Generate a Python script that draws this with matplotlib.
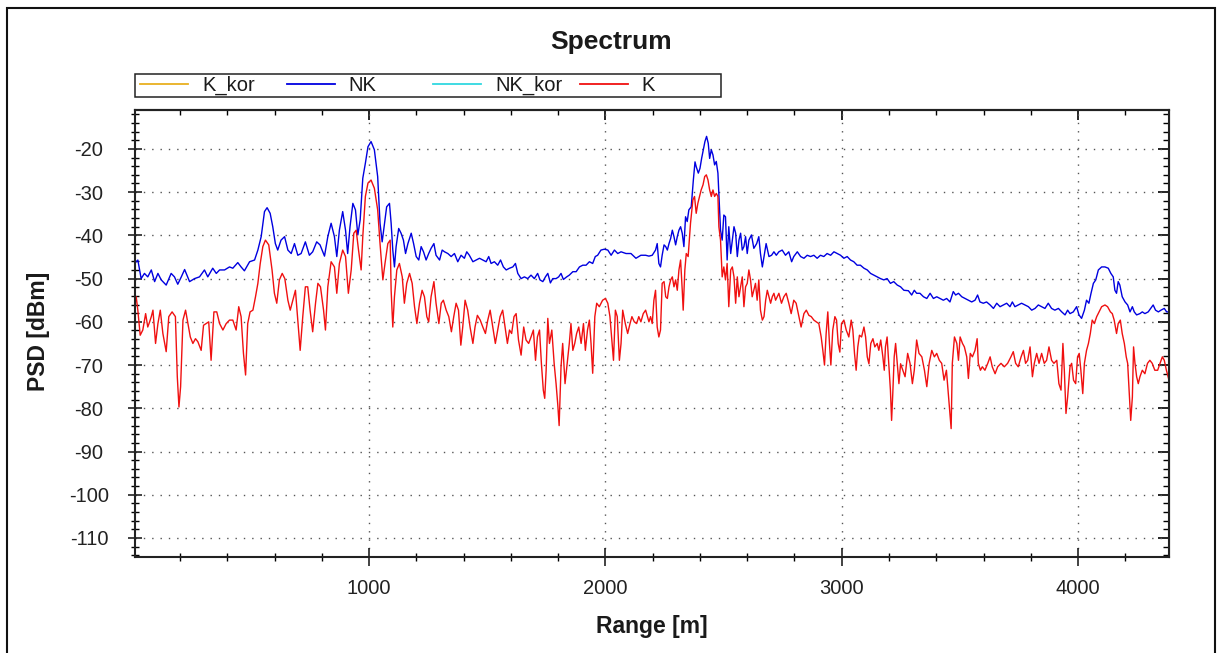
import matplotlib
matplotlib.use('Agg')
import matplotlib.pyplot as plt
from matplotlib.patches import Rectangle
from matplotlib.ticker import MultipleLocator

plt.rcParams['font.family'] = ['Liberation Sans', 'DejaVu Sans']
plt.rcParams['axes.unicode_minus'] = False

# 読み取り値 (Range [m], PSD [dBm])
nk_range = [
    7, 21, 35, 49, 63, 78, 92, 106, 120, 141,
    162, 176, 190, 205, 219, 240, 261, 282, 303, 317,
    338, 353, 367, 388, 409, 423, 444, 458, 472, 494,
    515, 529, 543, 557, 568, 581, 592, 603, 613, 627,
    642, 656, 670, 684, 698, 712, 730, 747, 761, 778,
    792, 811, 825, 839, 853, 863, 874, 888, 900, 909,
    919, 931, 942, 952, 962, 973, 984, 995, 1008, 1022,
    1036, 1046, 1055, 1065, 1074, 1086,
    1093, 1100, 1107, 1114, 1125, 1135, 1145, 1154, 1164, 1178,
    1188, 1199, 1210, 1220, 1230, 1241, 1252, 1262, 1274, 1283,
    1298, 1309, 1319, 1333, 1347, 1361, 1375, 1389, 1403, 1413,
    1424, 1439, 1453, 1467, 1481, 1495, 1506, 1516, 1530, 1544,
    1556, 1568, 1580, 1594, 1608, 1619, 1629, 1643, 1657, 1671,
    1685, 1699, 1713, 1723, 1735, 1746, 1756, 1767, 1777, 1791,
    1802, 1812, 1822, 1836, 1847, 1862, 1876, 1890, 1904, 1918,
    1932, 1946, 1957, 1967, 1981, 1995, 2010, 2024, 2038, 2052,
    2066, 2087, 2108, 2129, 2150,
    2170, 2184, 2198, 2212, 2219, 2226, 2233, 2240, 2248, 2255,
    2262, 2269, 2276, 2283, 2290, 2297, 2304, 2311, 2318, 2325,
    2332, 2339, 2346, 2353, 2363, 2372, 2379, 2384, 2393, 2400,
    2407, 2414, 2421, 2428, 2435, 2441, 2448, 2455, 2462, 2469,
    2476, 2480, 2487, 2494, 2501, 2508, 2515, 2522, 2530, 2537,
    2544, 2551, 2558, 2565, 2572, 2579, 2586, 2593, 2600, 2607,
    2618, 2628, 2640, 2649, 2656, 2664, 2671, 2680, 2692, 2703,
    2713, 2723, 2734, 2748, 2762, 2776, 2788, 2797, 2812, 2826,
    2840, 2854, 2868, 2882, 2896, 2910, 2924, 2938, 2953, 2967,
    2981, 2995, 3009, 3023, 3037, 3051, 3065, 3079, 3094, 3108,
    3122, 3136, 3150, 3164, 3178, 3192, 3206, 3220, 3235, 3249,
    3263,
    3282, 3296, 3307, 3317, 3331, 3346, 3360, 3374, 3388, 3402,
    3416, 3430, 3444, 3458, 3472, 3482, 3494, 3508, 3522, 3536,
    3550, 3564, 3575, 3585, 3599, 3613, 3628, 3642, 3656, 3670,
    3684, 3698, 3712, 3722, 3733, 3747, 3761, 3776, 3790, 3804,
    3818, 3832, 3846, 3860, 3874, 3888, 3902, 3917, 3931, 3945,
    3956, 3966, 3980, 3994, 4004, 4015, 4027, 4036, 4046, 4055,
    4065, 4075, 4086, 4100, 4114, 4128, 4139, 4149, 4156, 4163,
    4170, 4177, 4187, 4199, 4210, 4220, 4230, 4238, 4248, 4262,
    4272, 4283, 4297, 4318, 4328, 4340, 4351, 4365, 4375, 4385,
]
nk_psd = [
    -46.5, -45.7, -50.0, -48.8, -49.6, -48.0, -50.7, -48.8, -50.3, -51.5,
    -48.8, -49.6, -51.3, -49.6, -47.9, -50.7, -50.0, -49.6, -48.0, -49.6,
    -47.6, -48.8, -48.0, -48.0, -47.3, -47.6, -46.3, -47.3, -48.2, -46.1,
    -45.7, -43.4, -40.3, -34.5, -33.6, -34.9, -38.0, -41.9, -43.4, -41.1,
    -40.3, -43.4, -44.2, -41.9, -44.6, -44.2, -41.5, -44.6, -43.8, -41.5,
    -42.2, -44.8, -40.3, -37.2, -40.3, -44.9, -38.8, -34.5, -38.8, -44.2,
    -38.0, -32.6, -34.1, -39.9, -36.4, -26.8, -23.3, -19.5, -18.3, -20.2,
    -26.4, -37.2, -41.5, -37.2, -33.4, -32.6,
    -37.2, -43.4, -47.3, -42.6, -38.4, -39.5, -41.1, -44.2, -41.9, -39.5,
    -41.9, -44.9, -45.7, -42.6, -43.8, -45.7, -44.2, -43.0, -41.9, -44.6,
    -45.7, -43.4, -43.8, -44.2, -44.9, -44.2, -46.1, -44.6, -45.3, -43.8,
    -44.6, -46.1, -45.7, -45.3, -45.7, -46.1, -44.9, -46.5, -46.1, -46.9,
    -45.7, -47.3, -48.0, -47.6, -47.3, -46.5, -48.8, -50.0, -49.6, -50.0,
    -49.2, -50.0, -48.8, -50.3, -50.7, -49.6, -48.8, -51.0, -50.0, -50.0,
    -49.6, -48.8, -50.2, -49.6, -49.2, -48.4, -48.4, -47.3, -46.9, -46.9,
    -46.1, -46.5, -44.9, -44.6, -43.4, -43.2, -43.4, -44.6, -43.4, -44.2,
    -43.8, -44.2, -44.2, -45.3, -44.6,
    -44.6, -44.8, -44.6, -43.4, -41.9, -46.5, -47.3, -44.6, -42.2, -42.6,
    -43.4, -41.9, -40.7, -38.8, -40.3, -42.2, -40.3, -38.8, -38.0, -39.5,
    -42.6, -35.7, -36.8, -34.1, -33.4, -27.2, -23.0, -24.1, -25.6, -24.5,
    -22.2, -20.2, -18.3, -17.1, -18.7, -22.2, -20.2, -21.4, -23.7, -22.9,
    -25.6, -30.3, -38.8, -41.1, -35.3, -35.7, -45.7, -38.0, -44.2, -41.1,
    -38.0, -39.5, -44.9, -41.1, -39.5, -43.4, -42.6, -40.3, -44.2, -41.1,
    -39.9, -43.0, -41.9, -40.3, -44.2, -47.3, -44.9, -41.9, -44.9, -44.6,
    -43.8, -44.6, -43.8, -43.4, -44.6, -43.8, -46.1, -44.9, -43.8, -44.9,
    -45.3, -44.6, -44.9, -44.6, -45.3, -44.6, -44.9, -44.2, -44.6, -43.8,
    -44.2, -44.6, -45.3, -44.9, -45.7, -46.1, -46.9, -46.9, -47.6, -48.0,
    -48.8, -49.2, -49.6, -50.0, -50.3, -50.0, -51.1, -50.7, -51.5, -51.9,
    -52.7,
    -52.8, -53.8, -52.7, -53.4, -53.4, -54.2, -54.6, -53.4, -54.6, -54.2,
    -54.6, -55.0, -54.6, -55.4, -53.0, -53.8, -53.4, -54.2, -54.6, -55.0,
    -55.4, -55.0, -53.8, -55.4, -55.7, -55.4, -56.1, -56.9, -55.7, -56.5,
    -56.1, -55.7, -56.5, -55.4, -56.5, -56.1, -55.7, -56.1, -56.5, -57.3,
    -56.9, -56.1, -56.5, -56.9, -55.7, -56.9, -57.3, -56.9, -57.7, -58.4,
    -57.3, -58.1, -57.7, -56.5, -58.4, -59.2, -57.3, -55.0, -55.7, -53.4,
    -51.1, -50.3, -48.0, -47.3, -47.3, -47.6, -48.8, -49.6, -52.7, -53.4,
    -50.7, -51.5, -54.2, -55.4, -56.1, -57.7, -56.5, -57.7, -58.4, -58.1,
    -57.7, -58.1, -57.7, -56.1, -57.3, -57.7, -57.3, -56.9, -57.7, -57.7,
]

k_range = [
    4, 14, 21, 31, 42, 54, 63, 71, 78, 85,
    96, 106, 116, 127, 141, 152, 166, 180, 188, 195,
    202, 212, 223, 233, 243, 254, 265, 275, 289, 299,
    310, 321, 331, 343, 355, 367, 381, 395, 409, 423,
    437, 448, 458, 468, 477, 486, 496, 508, 519, 529,
    539, 550, 561, 575, 589, 599, 609, 620, 632, 643,
    656, 666, 677, 688, 698, 708, 719, 730, 740, 750,
    761, 773, 783, 794, 807, 815, 825, 839, 853, 863,
    874, 888, 900, 912, 924, 935, 945, 955, 966, 973,
    984, 995, 1008, 1022, 1036, 1046, 1058, 1067, 1079, 1089,
    1093, 1100, 1107, 1117, 1128, 1140, 1149, 1159, 1171, 1182,
    1192, 1202, 1213, 1224, 1234, 1244, 1252, 1262, 1274, 1283,
    1295, 1305, 1314, 1326, 1337, 1348, 1358, 1368, 1378, 1388,
    1396, 1406, 1417, 1427, 1439, 1448, 1458, 1470, 1481, 1492,
    1502, 1512, 1523, 1534, 1544, 1554, 1565, 1575, 1585, 1594,
    1603, 1613, 1622, 1632, 1643, 1654, 1664, 1675, 1685, 1695,
    1704, 1712, 1721, 1729, 1737, 1743, 1749, 1756, 1763, 1773,
    1783, 1791, 1798, 1804, 1812, 1819, 1829, 1838, 1847, 1854,
    1862, 1870, 1878, 1887, 1897, 1907, 1915, 1924, 1932, 1939,
    1946, 1955, 1963, 1974, 1988, 2000, 2010, 2019, 2028, 2034,
    2042, 2050, 2059, 2066, 2073, 2084, 2094, 2104, 2112, 2122,
    2132, 2141, 2150, 2160,
    2170, 2184, 2191, 2198, 2205, 2212, 2219, 2226, 2233, 2240,
    2248, 2255, 2262, 2269, 2276, 2283, 2290, 2297, 2304, 2311,
    2318, 2325, 2329, 2336, 2342, 2350, 2360, 2370, 2377, 2384,
    2391, 2398, 2405, 2413, 2420, 2427, 2434, 2441, 2448, 2455,
    2462, 2469, 2476, 2480, 2487, 2494, 2501, 2508, 2515, 2522,
    2530, 2537, 2544, 2551, 2558, 2565, 2572, 2579, 2586, 2593,
    2600, 2607, 2614, 2621, 2628, 2635, 2642, 2649, 2656, 2664,
    2671, 2678, 2685, 2692, 2699, 2706, 2713, 2720, 2727, 2734,
    2745, 2755, 2765, 2776, 2786, 2797, 2807, 2819, 2828, 2840,
    2850, 2861, 2871, 2882, 2892, 2903, 2913, 2920, 2927, 2934,
    2941, 2948, 2954, 2962, 2971, 2978, 2985, 2992, 2999, 3009,
    3019, 3030, 3040, 3047, 3054, 3061, 3068, 3075, 3084, 3094,
    3101, 3108, 3115, 3123, 3132, 3140, 3150, 3157, 3165, 3174,
    3180, 3185, 3192, 3199, 3206, 3211, 3216, 3222, 3228, 3235,
    3242, 3249,
    3268, 3279, 3289, 3299, 3307, 3317, 3327, 3339, 3350, 3360,
    3370, 3381, 3392, 3402, 3413, 3423, 3433, 3443, 3451, 3458,
    3463, 3468, 3477, 3487, 3494, 3501, 3511, 3519, 3529, 3536,
    3544, 3553, 3564, 3573, 3578, 3587, 3595, 3606, 3618, 3628,
    3637, 3649, 3660, 3674, 3688, 3702, 3716, 3726, 3736, 3747,
    3759, 3769, 3778, 3787, 3797, 3807, 3815, 3825, 3835, 3846,
    3857, 3867, 3877, 3888, 3898, 3910, 3919, 3928, 3936, 3942,
    3949, 3956, 3966, 3973, 3981, 3990, 3998, 4005, 4012, 4020,
    4027, 4036, 4044, 4052, 4060, 4069, 4079, 4089, 4100, 4114,
    4125, 4137, 4145, 4153, 4163, 4170, 4179, 4187, 4196, 4204,
    4210, 4216, 4223, 4230, 4235, 4241, 4248, 4255, 4262, 4272,
    4283, 4294, 4304, 4314, 4325, 4337, 4347, 4357, 4365, 4374,
    4385,
]
k_psd = [
    -55.7, -54.2, -57.3, -63.1, -61.9, -58.1, -61.2, -60.0, -58.8, -57.3,
    -65.0, -60.4, -57.3, -62.7, -66.9, -58.8, -57.7, -58.8, -72.7, -79.7,
    -75.0, -59.6, -57.3, -60.4, -63.5, -65.0, -63.9, -64.6, -66.6, -60.8,
    -60.4, -60.0, -68.9, -57.7, -57.7, -60.4, -61.9, -60.4, -59.6, -59.6,
    -61.9, -56.5, -58.8, -67.3, -72.3, -60.4, -57.7, -57.3, -54.2, -51.1,
    -46.5, -42.6, -41.1, -42.2, -48.0, -53.4, -55.7, -50.3, -48.8, -50.0,
    -55.0, -57.3, -55.0, -52.7, -59.6, -66.6, -58.8, -51.9, -51.9, -57.3,
    -62.3, -55.7, -51.1, -51.9, -57.3, -61.9, -51.9, -46.1, -47.3, -53.4,
    -46.5, -43.4, -44.9, -53.4, -48.0, -39.5, -38.8, -43.4, -48.0, -40.3,
    -31.0, -27.9, -27.2, -29.1, -34.1, -41.9, -50.3, -46.5, -41.9, -41.1,
    -52.7, -61.2, -54.2, -48.0, -46.5, -49.6, -55.7, -51.1, -48.8, -51.1,
    -56.5, -60.4, -55.7, -52.7, -54.2, -58.8, -60.0, -54.2, -50.7, -55.7,
    -60.4, -55.7, -55.0, -57.3, -58.8, -62.3, -58.8, -55.7, -57.3, -65.4,
    -61.2, -55.0, -57.3, -61.2, -65.0, -61.2, -58.5, -59.6, -61.2, -62.7,
    -59.6, -57.3, -61.2, -65.0, -61.9, -58.8, -57.3, -61.2, -65.0, -61.9,
    -62.7, -58.8, -58.1, -64.2, -67.7, -61.2, -64.2, -65.0, -63.5, -61.9,
    -68.9, -63.5, -61.9, -69.7, -75.8, -77.7, -71.2, -59.2, -65.0, -61.9,
    -69.7, -74.3, -79.0, -84.0, -70.4, -65.0, -74.3, -69.7, -65.0, -60.4,
    -66.6, -65.0, -62.7, -61.2, -65.0, -60.4, -66.6, -61.9, -59.6, -65.0,
    -71.9, -58.8, -55.7, -56.5, -55.0, -54.6, -55.7, -58.8, -65.0, -68.9,
    -57.3, -58.8, -68.9, -65.0, -57.3, -60.4, -62.7, -60.4, -58.8, -60.0,
    -60.4, -58.8, -60.0, -58.1,
    -57.3, -60.0, -58.8, -60.4, -55.0, -52.7, -61.2, -63.5, -61.9, -51.1,
    -50.7, -54.2, -54.6, -51.9, -50.3, -49.6, -51.9, -50.3, -52.7, -48.0,
    -45.7, -52.7, -57.3, -48.0, -44.2, -44.9, -37.2, -31.8, -31.0, -34.9,
    -32.6, -31.0, -29.5, -28.3, -26.4, -26.0, -27.2, -29.5, -31.0, -29.5,
    -31.0, -30.3, -31.0, -38.0, -41.1, -49.6, -47.3, -50.3, -46.5, -56.5,
    -48.0, -47.3, -49.6, -55.7, -49.6, -54.2, -51.9, -49.6, -56.5, -51.9,
    -51.1, -48.0, -50.3, -54.2, -52.7, -51.1, -55.0, -50.3, -57.3, -59.6,
    -58.8, -55.0, -52.7, -54.2, -55.7, -54.2, -53.4, -55.0, -54.2, -53.4,
    -55.7, -54.2, -53.4, -55.7, -58.1, -55.0, -55.7, -58.8, -61.2, -58.1,
    -57.3, -58.5, -58.8, -59.6, -60.0, -60.4, -63.5, -66.6, -70.0, -62.7,
    -57.7, -65.0, -70.0, -61.9, -58.8, -59.6, -65.0, -67.0, -60.4, -59.6,
    -61.9, -63.5, -59.6, -61.9, -67.3, -71.2, -65.8, -63.1, -63.5, -61.2,
    -63.5, -68.1, -69.7, -65.0, -63.9, -65.8, -65.0, -66.6, -64.2, -68.1,
    -71.2, -65.8, -63.5, -69.7, -75.8, -82.8, -76.6, -68.1, -65.0, -69.7,
    -74.3, -69.7,
    -72.7, -67.3, -69.6, -74.3, -71.2, -64.2, -67.3, -68.1, -71.2, -75.0,
    -69.6, -66.6, -68.1, -67.3, -68.9, -69.6, -73.5, -71.2, -76.6, -81.2,
    -84.7, -69.6, -63.5, -65.0, -68.9, -63.5, -65.0, -65.8, -68.1, -73.1,
    -67.3, -68.1, -66.6, -63.9, -69.6, -71.2, -70.4, -71.2, -69.6, -68.1,
    -70.4, -72.0, -70.4, -69.6, -70.4, -69.6, -68.1, -66.9, -69.6, -70.4,
    -68.1, -66.6, -69.6, -68.9, -65.8, -72.7, -69.6, -67.3, -69.6, -67.3,
    -69.6, -68.9, -65.8, -68.9, -69.6, -68.9, -74.3, -75.8, -65.0, -71.2,
    -81.2, -77.4, -70.4, -69.6, -73.5, -74.3, -68.1, -67.3, -71.2, -76.6,
    -69.6, -66.6, -65.0, -62.7, -59.6, -60.4, -58.8, -57.7, -56.5, -56.1,
    -56.5, -57.7, -58.1, -59.6, -62.7, -60.4, -59.6, -62.7, -65.0, -68.1,
    -69.6, -75.8, -82.8, -77.4, -65.8, -69.6, -72.7, -74.3, -72.7, -71.2,
    -72.0, -69.6, -68.9, -69.6, -71.2, -71.2, -69.6, -68.1, -68.9, -71.2,
    -73.5,
]

assert len(nk_range) == len(nk_psd), (len(nk_range), len(nk_psd))
assert len(k_range) == len(k_psd), (len(k_range), len(k_psd))

series_names = ['K_kor', 'NK', 'NK_kor', 'K']
series_colors = {'K_kor': '#e8b020', 'NK': '#0000e0', 'NK_kor': '#30d8e0', 'K': '#f01010'}

W, H = 1222, 653
fig = plt.figure(figsize=(W / 100, H / 100), dpi=100)
fig.patch.set_facecolor('white')

# 軸の配置（ピクセル基準）
ax_l, ax_r, ax_t, ax_b = 135, 1169, 110, 557
ax = fig.add_axes([ax_l / W, 1 - ax_b / H, (ax_r - ax_l) / W, (ax_b - ax_t) / H])

# K_kor / NK_kor は図中に描画されていない（凡例のみ）
lines = {}
lines['K_kor'], = ax.plot([], [], color=series_colors['K_kor'], lw=1.0)
lines['NK'], = ax.plot(nk_range, nk_psd, color=series_colors['NK'], lw=1.0)
lines['NK_kor'], = ax.plot([], [], color=series_colors['NK_kor'], lw=1.0)
lines['K'], = ax.plot(k_range, k_psd, color=series_colors['K'], lw=1.0)

ax.set_xlim(9, 4385)
ax.set_ylim(-114.4, -11)
ax.xaxis.set_major_locator(MultipleLocator(1000))
ax.xaxis.set_minor_locator(MultipleLocator(200))
ax.yaxis.set_major_locator(MultipleLocator(10))
ax.yaxis.set_minor_locator(MultipleLocator(2))
ax.grid(True, which='major', color='#555555', linestyle=(0, (1, 5)), linewidth=1.0)

for s in ax.spines.values():
    s.set_linewidth(1.5)
    s.set_color('#222222')

ax.tick_params(axis='x', which='major', direction='inout', length=13, width=1.2,
               labelsize=14.5, pad=9, colors='#222222')
ax.tick_params(axis='x', which='minor', direction='inout', length=5.8, width=1.0)
ax.tick_params(axis='y', which='major', direction='inout', length=9.4, width=1.2,
               labelsize=14.5, pad=28.4, colors='#222222')
ax.tick_params(axis='y', which='minor', direction='inout', length=5.8, width=1.0)
for lab in ax.get_yticklabels():
    lab.set_horizontalalignment('center')

# 上側・右側の内向き目盛
sec_x = ax.secondary_xaxis('top')
sec_x.xaxis.set_major_locator(MultipleLocator(1000))
sec_x.xaxis.set_minor_locator(MultipleLocator(200))
sec_x.tick_params(axis='x', which='major', direction='in', length=7.2, width=1.2,
                  labeltop=False, labelbottom=False)
sec_x.tick_params(axis='x', which='minor', direction='in', length=3.6, width=1.0)
sec_x.spines['top'].set_linewidth(1.5)

sec_y = ax.secondary_yaxis('right')
sec_y.yaxis.set_major_locator(MultipleLocator(10))
sec_y.yaxis.set_minor_locator(MultipleLocator(2))
sec_y.tick_params(axis='y', which='major', direction='in', length=8, width=1.2,
                  labelright=False, labelleft=False)
sec_y.tick_params(axis='y', which='minor', direction='in', length=4.3, width=1.0)

ax.set_xlabel('Range [m]', fontsize=16.5, fontweight='bold', color='#1a1a1a')
ax.xaxis.set_label_coords(0.5, (ax_b - 626) / (ax_b - ax_t))
ax.xaxis.label.set_va('center')
ax.set_ylabel('PSD [dBm]', fontsize=16.5, fontweight='bold', color='#1a1a1a')
ax.yaxis.set_label_coords((38 - ax_l) / (ax_r - ax_l), (ax_b - 331) / (ax_b - ax_t))
ax.yaxis.label.set_va('center')

fig.text(611 / W, 1 - 42 / H, 'Spectrum', ha='center', va='center',
         fontsize=19, fontweight='bold', color='#1a1a1a')

# 凡例（等間隔の4列）
fs = 14.5
fs_px = fs * 100 / 72
leg_x0, leg_x1, leg_top, leg_bot = 135, 721, 74, 97
col_w = (leg_x1 - leg_x0) / len(series_names)
for i, name in enumerate(series_names):
    leg = fig.legend([lines[name]], [name], loc='center left',
                     bbox_to_anchor=((leg_x0 + 5 + i * col_w) / W, 1 - (leg_top + leg_bot) / 2 / H),
                     frameon=False, fontsize=fs, borderpad=0, borderaxespad=0,
                     handlelength=48 / fs_px, handletextpad=14 / fs_px)
    for t in leg.get_texts():
        t.set_color('#1a1a1a')
    for h in leg.legend_handles:
        h.set_linewidth(1.3)

fig.add_artist(Rectangle((leg_x0 / W, 1 - leg_bot / H), (leg_x1 - leg_x0) / W,
                         (leg_bot - leg_top) / H, transform=fig.transFigure,
                         fill=False, edgecolor='#222222', linewidth=1.1))

# 外枠
fig.add_artist(Rectangle((7 / W, -0.05), (1215 - 7) / W, 1.05 - 8 / H,
                         transform=fig.transFigure, fill=False,
                         edgecolor='#111111', linewidth=1.5, clip_on=False))

fig.savefig('out.png', dpi=100, facecolor='white')
plt.close(fig)
